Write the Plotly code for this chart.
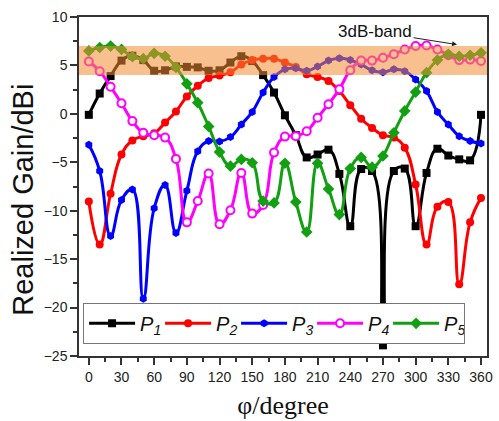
import plotly.graph_objects as go

# Azimuth angle (degree) and realized gain (dBi) for the five ports
phi = list(range(0, 361, 10))

p1 = [-0.1, 2.1, 3.9, 5.5, 6.0, 5.55, 4.45, 4.5, 4.9, 4.85, 4.8, 4.45, 4.5, 5.3, 5.95,
      5.45, 4.0, 2.2, -0.15, -2.2, -4.5, -4.2, -3.7, -6.2, -11.6, -5.7, -5.9, -23.9,
      -5.9, -5.65, -11.6, -6.1, -3.6, -4.3, -4.7, -4.8, -0.1]
p2 = [-9.05, -13.5, -8.25, -4.2, -2.75, -2.3, -2.0, -0.9, 0.25, 1.8, 2.9, 3.7, 3.95, 4.3,
      5.1, 5.55, 5.7, 5.7, 5.3, 4.85, 4.1, 3.8, 3.4, 2.35, 0.9, -0.5, -1.45, -2.2, -2.45,
      -3.5, -7.3, -13.5, -9.6, -9.1, -17.6, -11.2, -8.7]
p3 = [-3.2, -5.9, -12.6, -8.9, -7.8, -19.1, -9.75, -7.35, -12.3, -7.95, -3.85, -2.8, -2.85,
      -2.4, -1.1, 0.2, 2.2, 3.8, 4.6, 4.7, 4.45, 4.9, 5.5, 5.75, 5.55, 5.1, 4.5, 4.3, 4.6,
      4.4, 3.55, 2.35, 0.2, -1.1, -2.3, -2.8, -3.05]
p4 = [5.4, 4.4, 2.8, 1.1, -0.75, -1.95, -2.2, -2.45, -4.65, -11.2, -9.0, -6.15, -11.4,
      -9.95, -6.1, -10.3, -9.4, -4.0, -2.35, -2.3, -1.8, -0.4, 1.0, 2.55, 4.5, 5.5, 5.5,
      5.8, 6.15, 6.65, 7.0, 7.05, 6.65, 6.05, 5.55, 5.6, 5.45]
p5 = [6.5, 6.85, 7.0, 6.65, 5.9, 5.7, 6.25, 5.95, 4.8, 3.1, 1.15, -1.3, -3.95, -5.4, -4.7,
      -5.05, -9.0, -9.2, -5.1, -9.1, -12.2, -5.1, -7.75, -10.4, -5.65, -4.5, -5.5, -4.35,
      -1.95, 0.3, 2.25, 4.25, 5.55, 6.15, 5.95, 6.05, 6.3]

names = ["<i>P<sub>1</sub></i>", "<i>P<sub>2</sub></i>", "<i>P<sub>3</sub></i>",
         "<i>P<sub>4</sub></i>", "<i>P<sub>5</sub></i>"]
series = [p1, p2, p3, p4, p5]
colors = ["#000000", "#FF0000", "#0000FF", "#FF00FF", "#12A012"]
symbols = ["square", "circle", "hexagon", "circle", "diamond"]
fills = ["#000000", "#FF0000", "#0000FF", "#FFFFFF", "#12A012"]

band_low, band_high = 4.0, 7.0
x_ticks = list(range(0, 361, 30))
y_ticks = list(range(-25, 11, 5))

fig = go.Figure()
for name, ys, c, sym, fc in zip(names, series, colors, symbols, fills):
    fig.add_trace(go.Scatter(
        x=phi, y=ys, name=name, mode="lines+markers",
        line=dict(color=c, width=3, shape="spline", smoothing=1.3),
        marker=dict(symbol=sym, size=8 if sym != "diamond" else 9, color=fc,
                    line=dict(color=c, width=2 if fc == "#FFFFFF" else 0)),
    ))

# 3 dB band drawn over the curves
fig.add_shape(type="rect", xref="paper", yref="y", x0=0, x1=1,
              y0=band_low, y1=band_high, fillcolor="rgb(242,140,50)",
              opacity=0.55, line=dict(width=0), layer="above")

fig.add_annotation(x=338, y=7.15, ax=-82, ay=-13, text="3dB-band",
                   showarrow=True, arrowhead=2, arrowsize=1, arrowwidth=1,
                   arrowcolor="#222222",
                   font=dict(family="Liberation Sans", size=17, color="#111111"))

fig.add_annotation(xref="paper", yref="paper", x=-0.138, y=0.46,
                   xanchor="center", yanchor="middle",
                   text="Realized Gain/dBi", textangle=-90, showarrow=False,
                   font=dict(family="Liberation Sans", size=29, color="#111111"))

axis_common = dict(showline=True, linecolor="#333333", linewidth=1.5, mirror=True,
                   ticks="outside", tickcolor="#333333", ticklen=7, tickwidth=1.5,
                   showgrid=False, zeroline=False,
                   tickfont=dict(family="Liberation Sans", size=14, color="#222222"))

fig.update_xaxes(range=[-9.0, 365.5], tickvals=x_ticks,
                 minor=dict(ticks="outside", ticklen=4, dtick=15, tick0=0,
                            tickcolor="#333333", tickwidth=1.5),
                 title=dict(text="φ/degree", standoff=12,
                            font=dict(family="Liberation Serif", size=26, color="#111111")),
                 **axis_common)
fig.update_yaxes(range=[-25, 10], tickvals=y_ticks,
                 minor=dict(ticks="outside", ticklen=4, dtick=2.5, tick0=0,
                            tickcolor="#333333", tickwidth=1.5),
                 **axis_common)

fig.update_layout(
    width=499, height=421,
    margin=dict(l=79, r=6, t=17, b=65),
    paper_bgcolor="white", plot_bgcolor="white",
    showlegend=True,
    legend=dict(orientation="h", x=0.01, y=0.157, xanchor="left", yanchor="top",
                bgcolor="white", bordercolor="#777777", borderwidth=1,
                itemwidth=46, entrywidth=15, entrywidthmode="pixels",
                tracegroupgap=0,
                font=dict(family="Liberation Sans", size=20, color="#111111")),
)

fig.write_html("out.html")
